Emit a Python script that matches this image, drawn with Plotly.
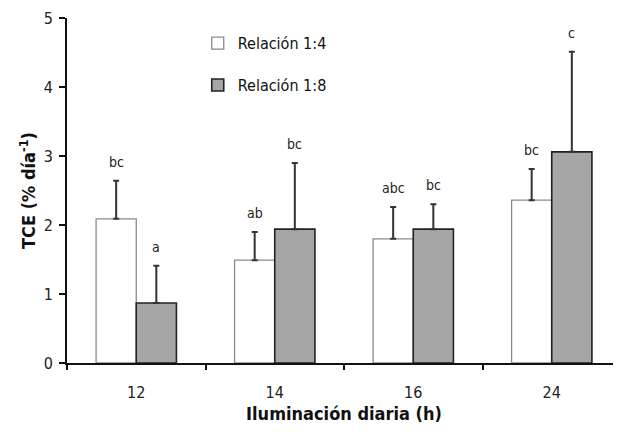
import plotly.graph_objects as go

categories = ["12", "14", "16", "24"]
series_names = ["Relación 1:4", "Relación 1:8"]
r14_values = [2.09, 1.49, 1.80, 2.36]
r14_errors = [0.55, 0.41, 0.46, 0.45]
r18_values = [0.87, 1.94, 1.94, 3.06]
r18_errors = [0.54, 0.96, 0.36, 1.45]
r14_letters = ["bc", "ab", "abc", "bc"]
r18_letters = ["a", "bc", "bc", "c"]

FONT = "DejaVu Sans Condensed, Liberation Sans Narrow, Arial Narrow, sans-serif"

fig = go.Figure()
fig.add_trace(go.Bar(
    x=categories, y=r14_values, name=series_names[0],
    marker=dict(color="white", line=dict(color="#8a8a8a", width=1.3)),
    error_y=dict(type="data", array=r14_errors, arrayminus=[0]*4, symmetric=False,
                 color="#333333", thickness=2, width=3),
    legendgroup="a",
))
fig.add_trace(go.Bar(
    x=categories, y=r18_values, name=series_names[1],
    marker=dict(color="#a6a6a6", line=dict(color="#222222", width=1.6)),
    error_y=dict(type="data", array=r18_errors, arrayminus=[0]*4, symmetric=False,
                 color="#333333", thickness=2, width=3),
    legendgroup="b",
))

for vals, errs, letters, shift in [(r14_values, r14_errors, r14_letters, -20),
                                    (r18_values, r18_errors, r18_letters, 20)]:
    for i, (v, e, t) in enumerate(zip(vals, errs, letters)):
        fig.add_annotation(x=i, y=v + e, xref="x", yref="y", text=t, showarrow=False,
                           xshift=shift, yanchor="bottom", yshift=9,
                           font=dict(family=FONT, size=14, color="#222222"))

# page body has an 8px margin, so the figure is drawn 8px right/down
fig.update_layout(
    width=613, height=424,
    margin=dict(l=59, r=0, t=10, b=69, autoexpand=False),
    paper_bgcolor="white", plot_bgcolor="white",
    barmode="group", bargap=0.42, bargroupgap=0,
    font=dict(family=FONT, size=14, color="#222222"),
    showlegend=True,
    legend=dict(x=0.236, y=0.976, xanchor="left", yanchor="top",
                font=dict(family=FONT, size=16, color="#111111"),
                tracegroupgap=18, bgcolor="rgba(0,0,0,0)", itemwidth=30),
    xaxis=dict(type="category", range=[-0.5, 3.5], showline=True, linecolor="#111111",
               linewidth=2, ticks="outside", tickson="boundaries", ticklen=5,
               tickwidth=2, tickcolor="#111111", showgrid=False, automargin=False,
               ticklabelstandoff=14,
               tickfont=dict(family=FONT, size=16, color="#222222"),
               title=dict(text="<b>Iluminación diaria (h)</b>", standoff=6,
                          font=dict(family=FONT, size=18, color="#111111"))),
    yaxis=dict(range=[0, 5], dtick=1, showline=True, linecolor="#111111", linewidth=2,
               ticks="outside", ticklen=6, tickwidth=2, tickcolor="#111111",
               showgrid=False, zeroline=False, automargin=False,
               ticklabelstandoff=3,
               tickfont=dict(family=FONT, size=16, color="#222222"),
               title=dict(text="<b>TCE (% día<sup>-1</sup>)</b>", standoff=3,
                          font=dict(family=FONT, size=18, color="#111111"))),
)

fig.write_html("out.html")
